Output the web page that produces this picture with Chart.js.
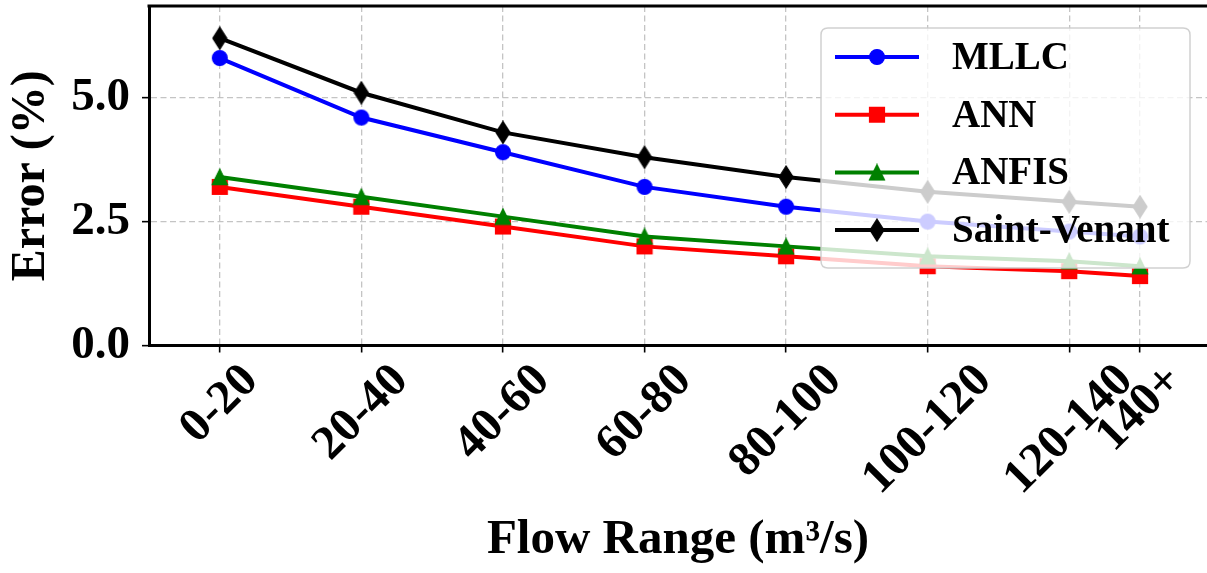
<!DOCTYPE html>
<html><head><meta charset="utf-8">
<script src="https://cdn.jsdelivr.net/npm/chart.js@4.4.0/dist/chart.umd.min.js"></script>
<style>html,body{margin:0;padding:0;background:#fff;} #wrap{width:1207px;height:573px;position:relative;}</style>
</head><body><div id="wrap"><canvas id="c" width="1207" height="573"></canvas></div>
<script>
const categories = ['0-20','20-40','40-60','60-80','80-100','100-120','120-140','140+'];
const xPositions = [10,30,50,70,90,110,130,140];
const mllc  = [5.8, 4.6, 3.9, 3.2, 2.8, 2.5, 2.3, 2.2];
const ann   = [3.2, 2.8, 2.4, 2.0, 1.8, 1.6, 1.5, 1.4];
const anfis = [3.4, 3.0, 2.6, 2.2, 2.0, 1.8, 1.7, 1.6];
const saintVenant = [6.2, 5.1, 4.3, 3.8, 3.4, 3.1, 2.9, 2.8];
const yTicks = [0, 2.5, 5.0];
const seriesNames = ['MLLC','ANN','ANFIS','Saint-Venant'];

const FONT = '"Liberation Serif", "Times New Roman", serif';

function marker(kind, color){
  const c = document.createElement('canvas');
  let w = 18, h = 18;
  if (kind === 'diamond') { w = 16; h = 24; }
  c.width = w; c.height = h;
  const g = c.getContext('2d');
  g.fillStyle = color; g.strokeStyle = color; g.lineWidth = 1.2; g.lineJoin = 'miter';
  g.beginPath();
  if (kind === 'circle') { g.arc(9, 9, 7.4, 0, Math.PI*2); }
  else if (kind === 'square') { g.rect(1.5, 1.5, 15, 15); }
  else if (kind === 'triangle') { g.moveTo(9, 1.2); g.lineTo(16.6, 16.6); g.lineTo(1.4, 16.6); g.closePath(); }
  else { g.moveTo(8, 1); g.lineTo(15, 12); g.lineTo(8, 23); g.lineTo(1, 12); g.closePath(); }
  g.fill(); g.stroke();
  return c;
}

const colors = ['#0000ff', '#ff0000', '#008000', '#000000'];
const kinds = ['circle', 'square', 'triangle', 'diamond'];
const seriesValues = [mllc, ann, anfis, saintVenant];
const markers = kinds.map((k, i) => marker(k, colors[i]));

const datasets = seriesValues.map((vals, i) => ({
  label: seriesNames[i],
  data: xPositions.map((x, j) => ({x: x, y: vals[j]})),
  borderColor: colors[i],
  backgroundColor: colors[i],
  borderWidth: 4,
  pointStyle: markers[i],
  pointRadius: 8,
  pointHoverRadius: 8,
  tension: 0,
  order: 3 - i
}));

const customDraw = {
  id: 'customDraw',
  afterDraw(chart) {
    const {ctx, chartArea: a, scales: {x}} = chart;
    ctx.save();
    // top spine
    ctx.strokeStyle = '#000'; ctx.lineWidth = 3;
    ctx.beginPath(); ctx.moveTo(a.left - 1.5, a.top); ctx.lineTo(a.right + 2, a.top); ctx.stroke();
    // x tick labels (rotated 45°, bbox centred on tick like matplotlib)
    const fs = 48;
    ctx.font = 'bold ' + fs + 'px ' + FONT;
    ctx.fillStyle = '#000';
    x.ticks.forEach(t => {
      const idx = xPositions.indexOf(t.value);
      if (idx < 0) return;
      const label = categories[idx];
      const px = x.getPixelForValue(t.value);
      const w = ctx.measureText(label).width;
      const h = fs * 0.95;
      const H = (w + h) * Math.SQRT1_2;
      const cy = a.bottom + 7 + 5 + H / 2;
      ctx.save();
      ctx.translate(px, cy);
      ctx.rotate(-Math.PI / 4);
      ctx.textAlign = 'center'; ctx.textBaseline = 'middle';
      ctx.fillText(label, 0, 0);
      ctx.restore();
    });
    // legend
    const L = 821, T = 28, R = 1190, B = 268, rad = 7;
    ctx.beginPath();
    ctx.moveTo(L + rad, T); ctx.lineTo(R - rad, T); ctx.quadraticCurveTo(R, T, R, T + rad);
    ctx.lineTo(R, B - rad); ctx.quadraticCurveTo(R, B, R - rad, B);
    ctx.lineTo(L + rad, B); ctx.quadraticCurveTo(L, B, L, B - rad);
    ctx.lineTo(L, T + rad); ctx.quadraticCurveTo(L, T, L + rad, T); ctx.closePath();
    ctx.fillStyle = 'rgba(255,255,255,0.8)'; ctx.fill();
    ctx.strokeStyle = 'rgba(204,204,204,0.9)'; ctx.lineWidth = 1.5; ctx.stroke();
    ctx.font = 'bold 39px ' + FONT;
    ctx.textAlign = 'left'; ctx.textBaseline = 'middle';
    seriesNames.forEach((name, i) => {
      const cy = 57 + i * 57.7;
      ctx.strokeStyle = colors[i]; ctx.lineWidth = 4;
      ctx.beginPath(); ctx.moveTo(835, cy); ctx.lineTo(919, cy); ctx.stroke();
      const m = markers[i];
      ctx.drawImage(m, 877 - m.width / 2, cy - m.height / 2);
      ctx.fillStyle = '#000';
      ctx.fillText(name, 952, cy + 2);
    });
    ctx.restore();
  }
};

new Chart(document.getElementById('c'), {
  type: 'line',
  data: { datasets },
  plugins: [customDraw],
  options: {
    responsive: false,
    animation: false,
    devicePixelRatio: 1,
    layout: { autoPadding: false, padding: { top: 6, right: 0, left: 0, bottom: 0 } },
    plugins: { legend: { display: false }, tooltip: { enabled: false } },
    scales: {
      x: {
        type: 'linear',
        min: 0,
        max: 149.46,
        afterFit(scale) { scale.height = 227.5; scale.paddingLeft = 0; scale.paddingRight = 0; },
        afterBuildTicks(scale) { scale.ticks = xPositions.map(v => ({value: v})); },
        ticks: { display: false },
        grid: { color: 'rgba(176,176,176,0.75)', lineWidth: 1.3, drawTicks: true, tickLength: 7, tickColor: '#000', tickWidth: 1.6, tickBorderDash: [] },
        border: { display: true, color: '#000', width: 3, dash: [6, 3.5] },
        title: { display: true, text: 'Flow Range (m³/s)', color: '#000', font: { family: FONT, size: 49, weight: 'bold' }, padding: { top: 0, bottom: 3 } }
      },
      y: {
        type: 'linear',
        min: 0,
        max: 6.85,
        afterFit(scale) { scale.width = 149; scale.paddingTop = 0; scale.paddingBottom = 0; },
        afterBuildTicks(scale) { scale.ticks = yTicks.map(v => ({value: v})); },
        ticks: { color: '#000', font: { family: FONT, size: 47, weight: 'bold' }, padding: 12, callback: v => Number(v).toFixed(1) },
        grid: { color: 'rgba(176,176,176,0.75)', lineWidth: 1.3, drawTicks: true, tickLength: 7, tickColor: '#000', tickWidth: 1.6, tickBorderDash: [] },
        border: { display: true, color: '#000', width: 3, dash: [6, 3.5] },
        title: { display: true, text: 'Error (%)', color: '#000', font: { family: FONT, size: 48, weight: 'bold' }, padding: { top: 3, bottom: 0 } }
      }
    }
  }
});
</script>
</body></html>
